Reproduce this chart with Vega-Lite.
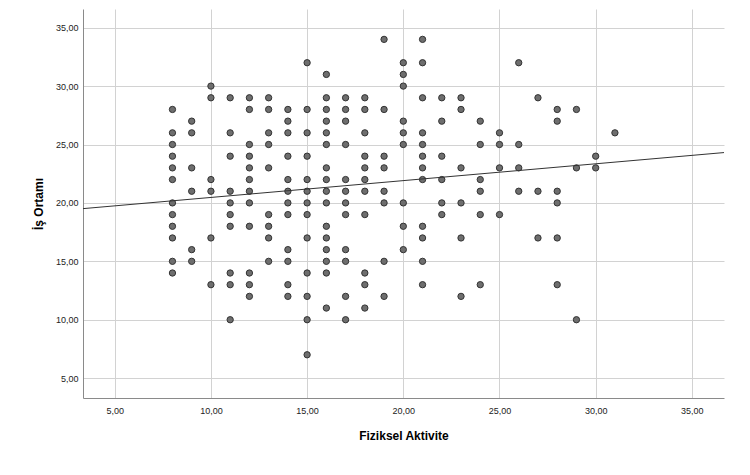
{
  "$schema": "https://vega.github.io/schema/vega-lite/v6.json",
  "width": 641,
  "height": 389,
  "autosize": {"type": "none"},
  "padding": {"left": 83, "top": 9, "right": 26, "bottom": 77},
  "background": "white",
  "config": {
    "view": {"stroke": null},
    "font": "Liberation Sans",
    "axis": {
      "grid": true,
      "gridColor": "#d2d2d2",
      "gridWidth": 1,
      "domainColor": "#8a8a8a",
      "domainWidth": 1,
      "ticks": false,
      "labelFont": "Liberation Sans",
      "labelFontSize": 9,
      "labelColor": "#222222",
      "titleFont": "Liberation Sans",
      "titleFontSize": 12,
      "titleFontWeight": "bold",
      "titleColor": "#000000"
    }
  },
  "datasets": {
    "scores": [
      {"aktivite": 8, "ortam": 28}, {"aktivite": 8, "ortam": 26}, {"aktivite": 8, "ortam": 25}, {"aktivite": 8, "ortam": 24},
      {"aktivite": 8, "ortam": 23}, {"aktivite": 8, "ortam": 22}, {"aktivite": 8, "ortam": 20}, {"aktivite": 8, "ortam": 19},
      {"aktivite": 8, "ortam": 18}, {"aktivite": 8, "ortam": 17}, {"aktivite": 8, "ortam": 15}, {"aktivite": 8, "ortam": 14},
      {"aktivite": 9, "ortam": 27}, {"aktivite": 9, "ortam": 26}, {"aktivite": 9, "ortam": 23}, {"aktivite": 9, "ortam": 21},
      {"aktivite": 9, "ortam": 16}, {"aktivite": 9, "ortam": 15},
      {"aktivite": 10, "ortam": 30}, {"aktivite": 10, "ortam": 29}, {"aktivite": 10, "ortam": 22}, {"aktivite": 10, "ortam": 21},
      {"aktivite": 10, "ortam": 17}, {"aktivite": 10, "ortam": 13},
      {"aktivite": 11, "ortam": 29}, {"aktivite": 11, "ortam": 26}, {"aktivite": 11, "ortam": 24}, {"aktivite": 11, "ortam": 21},
      {"aktivite": 11, "ortam": 20}, {"aktivite": 11, "ortam": 19}, {"aktivite": 11, "ortam": 18}, {"aktivite": 11, "ortam": 14},
      {"aktivite": 11, "ortam": 13}, {"aktivite": 11, "ortam": 10},
      {"aktivite": 12, "ortam": 29}, {"aktivite": 12, "ortam": 28}, {"aktivite": 12, "ortam": 25}, {"aktivite": 12, "ortam": 24},
      {"aktivite": 12, "ortam": 23}, {"aktivite": 12, "ortam": 22}, {"aktivite": 12, "ortam": 21}, {"aktivite": 12, "ortam": 20},
      {"aktivite": 12, "ortam": 18}, {"aktivite": 12, "ortam": 14}, {"aktivite": 12, "ortam": 13}, {"aktivite": 12, "ortam": 12},
      {"aktivite": 13, "ortam": 29}, {"aktivite": 13, "ortam": 28}, {"aktivite": 13, "ortam": 26}, {"aktivite": 13, "ortam": 25},
      {"aktivite": 13, "ortam": 23}, {"aktivite": 13, "ortam": 19}, {"aktivite": 13, "ortam": 18}, {"aktivite": 13, "ortam": 17},
      {"aktivite": 13, "ortam": 15},
      {"aktivite": 14, "ortam": 28}, {"aktivite": 14, "ortam": 27}, {"aktivite": 14, "ortam": 26}, {"aktivite": 14, "ortam": 24},
      {"aktivite": 14, "ortam": 22}, {"aktivite": 14, "ortam": 21}, {"aktivite": 14, "ortam": 20}, {"aktivite": 14, "ortam": 19},
      {"aktivite": 14, "ortam": 16}, {"aktivite": 14, "ortam": 15}, {"aktivite": 14, "ortam": 13}, {"aktivite": 14, "ortam": 12},
      {"aktivite": 15, "ortam": 32}, {"aktivite": 15, "ortam": 28}, {"aktivite": 15, "ortam": 26}, {"aktivite": 15, "ortam": 24},
      {"aktivite": 15, "ortam": 22}, {"aktivite": 15, "ortam": 21}, {"aktivite": 15, "ortam": 20}, {"aktivite": 15, "ortam": 19},
      {"aktivite": 15, "ortam": 17}, {"aktivite": 15, "ortam": 14}, {"aktivite": 15, "ortam": 12}, {"aktivite": 15, "ortam": 10},
      {"aktivite": 15, "ortam": 7},
      {"aktivite": 16, "ortam": 31}, {"aktivite": 16, "ortam": 29}, {"aktivite": 16, "ortam": 28}, {"aktivite": 16, "ortam": 27},
      {"aktivite": 16, "ortam": 26}, {"aktivite": 16, "ortam": 25}, {"aktivite": 16, "ortam": 23}, {"aktivite": 16, "ortam": 22},
      {"aktivite": 16, "ortam": 21}, {"aktivite": 16, "ortam": 20}, {"aktivite": 16, "ortam": 18}, {"aktivite": 16, "ortam": 17},
      {"aktivite": 16, "ortam": 16}, {"aktivite": 16, "ortam": 15}, {"aktivite": 16, "ortam": 14}, {"aktivite": 16, "ortam": 11},
      {"aktivite": 17, "ortam": 29}, {"aktivite": 17, "ortam": 28}, {"aktivite": 17, "ortam": 27}, {"aktivite": 17, "ortam": 25},
      {"aktivite": 17, "ortam": 22}, {"aktivite": 17, "ortam": 21}, {"aktivite": 17, "ortam": 20}, {"aktivite": 17, "ortam": 19},
      {"aktivite": 17, "ortam": 16}, {"aktivite": 17, "ortam": 15}, {"aktivite": 17, "ortam": 12}, {"aktivite": 17, "ortam": 10},
      {"aktivite": 18, "ortam": 29}, {"aktivite": 18, "ortam": 28}, {"aktivite": 18, "ortam": 26}, {"aktivite": 18, "ortam": 24},
      {"aktivite": 18, "ortam": 23}, {"aktivite": 18, "ortam": 22}, {"aktivite": 18, "ortam": 21}, {"aktivite": 18, "ortam": 19},
      {"aktivite": 18, "ortam": 14}, {"aktivite": 18, "ortam": 13}, {"aktivite": 18, "ortam": 11},
      {"aktivite": 19, "ortam": 34}, {"aktivite": 19, "ortam": 28}, {"aktivite": 19, "ortam": 24}, {"aktivite": 19, "ortam": 23},
      {"aktivite": 19, "ortam": 21}, {"aktivite": 19, "ortam": 20}, {"aktivite": 19, "ortam": 15}, {"aktivite": 19, "ortam": 12},
      {"aktivite": 20, "ortam": 32}, {"aktivite": 20, "ortam": 31}, {"aktivite": 20, "ortam": 30}, {"aktivite": 20, "ortam": 27},
      {"aktivite": 20, "ortam": 26}, {"aktivite": 20, "ortam": 25}, {"aktivite": 20, "ortam": 20}, {"aktivite": 20, "ortam": 18},
      {"aktivite": 20, "ortam": 16},
      {"aktivite": 21, "ortam": 34}, {"aktivite": 21, "ortam": 32}, {"aktivite": 21, "ortam": 29}, {"aktivite": 21, "ortam": 26},
      {"aktivite": 21, "ortam": 25}, {"aktivite": 21, "ortam": 24}, {"aktivite": 21, "ortam": 23}, {"aktivite": 21, "ortam": 22},
      {"aktivite": 21, "ortam": 18}, {"aktivite": 21, "ortam": 17}, {"aktivite": 21, "ortam": 15}, {"aktivite": 21, "ortam": 13},
      {"aktivite": 22, "ortam": 29}, {"aktivite": 22, "ortam": 27}, {"aktivite": 22, "ortam": 24}, {"aktivite": 22, "ortam": 22},
      {"aktivite": 22, "ortam": 20}, {"aktivite": 22, "ortam": 19},
      {"aktivite": 23, "ortam": 29}, {"aktivite": 23, "ortam": 28}, {"aktivite": 23, "ortam": 23}, {"aktivite": 23, "ortam": 20},
      {"aktivite": 23, "ortam": 17}, {"aktivite": 23, "ortam": 12},
      {"aktivite": 24, "ortam": 27}, {"aktivite": 24, "ortam": 25}, {"aktivite": 24, "ortam": 22}, {"aktivite": 24, "ortam": 21},
      {"aktivite": 24, "ortam": 19}, {"aktivite": 24, "ortam": 13},
      {"aktivite": 25, "ortam": 26}, {"aktivite": 25, "ortam": 25}, {"aktivite": 25, "ortam": 23}, {"aktivite": 25, "ortam": 19},
      {"aktivite": 26, "ortam": 32}, {"aktivite": 26, "ortam": 25}, {"aktivite": 26, "ortam": 23}, {"aktivite": 26, "ortam": 21},
      {"aktivite": 27, "ortam": 29}, {"aktivite": 27, "ortam": 21}, {"aktivite": 27, "ortam": 17},
      {"aktivite": 28, "ortam": 28}, {"aktivite": 28, "ortam": 27}, {"aktivite": 28, "ortam": 21}, {"aktivite": 28, "ortam": 20},
      {"aktivite": 28, "ortam": 17}, {"aktivite": 28, "ortam": 13},
      {"aktivite": 29, "ortam": 28}, {"aktivite": 29, "ortam": 23}, {"aktivite": 29, "ortam": 10},
      {"aktivite": 30, "ortam": 24}, {"aktivite": 30, "ortam": 23},
      {"aktivite": 31, "ortam": 26}
    ],
    "fitLine": [
      {"aktivite": 3.35, "ortam": 19.51},
      {"aktivite": 36.67, "ortam": 24.31}
    ]
  },
  "layer": [
    {
      "data": {"name": "scores"},
      "mark": {
        "type": "circle",
        "size": 40,
        "fill": "#6e6e6e",
        "fillOpacity": 1,
        "opacity": 1,
        "stroke": "#333333",
        "strokeWidth": 1
      },
      "encoding": {
        "x": {
          "field": "aktivite",
          "type": "quantitative",
          "scale": {"domain": [3.35, 36.67], "nice": false, "zero": false},
          "axis": {
            "title": "Fiziksel Aktivite",
            "values": [5, 10, 15, 20, 25, 30, 35],
            "labelExpr": "replace(format(datum.value, '.2f'), '.', ',')",
            "labelPadding": 8,
            "titlePadding": 15
          }
        },
        "y": {
          "field": "ortam",
          "type": "quantitative",
          "scale": {"domain": [3.3, 36.6], "nice": false, "zero": false},
          "axis": {
            "title": "İş Ortamı",
            "values": [5, 10, 15, 20, 25, 30, 35],
            "labelExpr": "replace(format(datum.value, '.2f'), '.', ',')",
            "labelPadding": 5,
            "titlePadding": 10
          }
        }
      }
    },
    {
      "data": {"name": "fitLine"},
      "mark": {"type": "line", "color": "#333333", "strokeWidth": 1, "clip": true},
      "encoding": {
        "x": {"field": "aktivite", "type": "quantitative"},
        "y": {"field": "ortam", "type": "quantitative"}
      }
    }
  ]
}
